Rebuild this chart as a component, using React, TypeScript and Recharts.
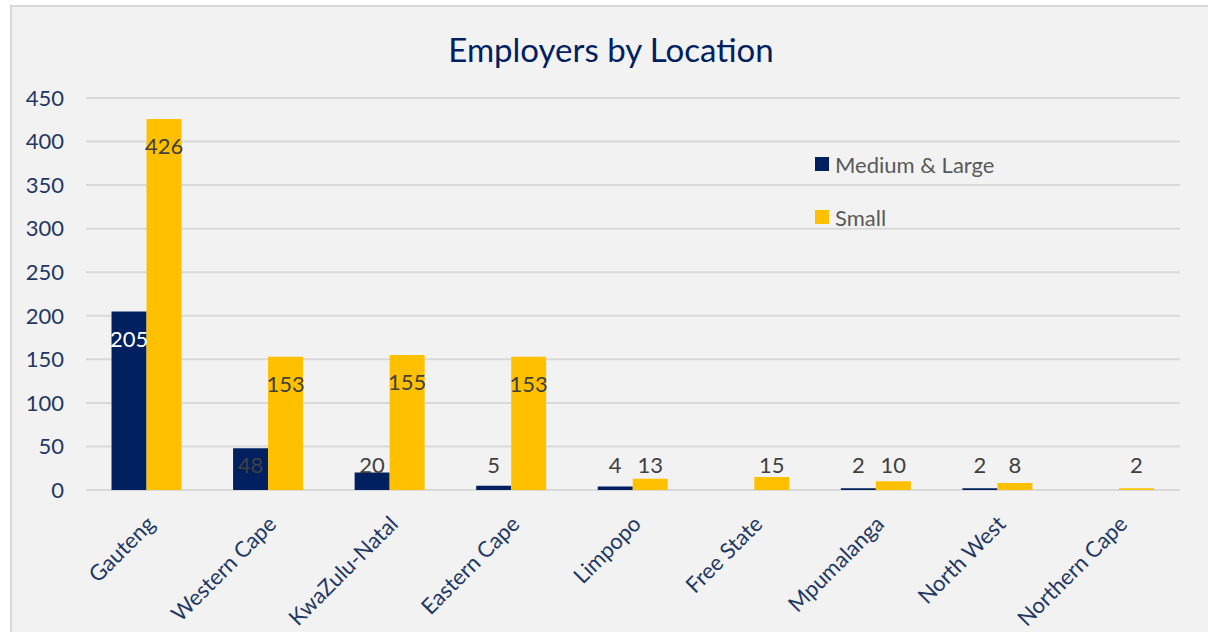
import { BarChart, Bar, XAxis, YAxis, CartesianGrid, LabelList } from 'recharts';

// provincias y totales de empleadores
const provinces = ['Gauteng', 'Western Cape', 'KwaZulu-Natal', 'Eastern Cape', 'Limpopo', 'Free State', 'Mpumalanga', 'North West', 'Northern Cape'];
const mediumLarge = [205, 48, 20, 5, 4, 0, 2, 2, 0];
const small = [426, 153, 155, 153, 13, 15, 10, 8, 2];
const yTicks = [0, 50, 100, 150, 200, 250, 300, 350, 400, 450];
const seriesNames = ['Medium & Large', 'Small'];

const data = provinces.map((name, i) => ({ name, medium: mediumLarge[i], small: small[i] }));

const NAVY = '#002060';
const GOLD = '#FFC000';
const FONT = 'Lato, "Open Sans", sans-serif';

const XTick = ({ x, y, payload }: any) => (
  <g transform={`translate(${x + 4},${y + 22})`}>
    <text textAnchor="end" transform="rotate(-45)" fontSize={22} fill="#1F3864" fontFamily={FONT} dy="0.35em">
      {payload.value}
    </text>
  </g>
);

const makeLabel = (whiteOver?: number) => (props: any) => {
  const { x, y, width, height, value } = props;
  if (!value) return null;
  // dentro del extremo si cabe, si no encima de la barra
  const cy = Math.min(y + 27, y + height - 26);
  const white = whiteOver !== undefined && value > whiteOver;
  return (
    <text x={x + width / 2} y={cy} textAnchor="middle" dominantBaseline="central" fontSize={22} fontFamily={FONT} fill={white ? '#ffffff' : '#404040'}>
      {value}
    </text>
  );
};

export default function App() {
  return (
    <div style={{ position: 'absolute', left: 0, top: 0, width: 1208, height: 632, background: '#ffffff', overflow: 'hidden' }}>
      <div style={{ position: 'absolute', left: 10, top: 5, width: 1210, height: 640, background: '#F2F2F2', borderLeft: '2px solid #D9D9D9', borderTop: '2px solid #D9D9D9' }}>
        <div style={{ position: 'absolute', left: 0, top: 22, width: 1198, textAlign: 'center', fontFamily: FONT, fontSize: 33, color: NAVY }}>
          Employers by Location
        </div>
        <BarChart
          width={1196}
          height={625}
          data={data}
          margin={{ top: 91, right: 28, left: 0, bottom: 0 }}
          barCategoryGap="21%"
          barGap={0}
        >
          <CartesianGrid vertical={false} stroke="#D9D9D9" strokeWidth={2} />
          <XAxis dataKey="name" height={142} axisLine={false} tickLine={false} interval={0} tick={<XTick />} />
          <YAxis
            domain={[0, 450]}
            ticks={yTicks}
            width={74}
            axisLine={false}
            tickLine={false}
            tickSize={0}
            tickMargin={22}
            tick={{ fontSize: 22, fill: '#1F3864', fontFamily: FONT }}
          />
          <Bar dataKey="medium" name={seriesNames[0]} fill={NAVY} isAnimationActive={false}>
            <LabelList dataKey="medium" content={makeLabel(100)} />
          </Bar>
          <Bar dataKey="small" name={seriesNames[1]} fill={GOLD} isAnimationActive={false}>
            <LabelList dataKey="small" content={makeLabel()} />
          </Bar>
        </BarChart>
        <div style={{ position: 'absolute', left: 803, top: 143, fontFamily: FONT, fontSize: 22, color: '#595959' }}>
          {[NAVY, GOLD].map((c, i) => (
            <div key={c} style={{ display: 'flex', alignItems: 'center', height: 28, marginBottom: 25 }}>
              <span style={{ width: 14, height: 14, background: c, marginRight: 6, display: 'inline-block' }} />
              {seriesNames[i]}
            </div>
          ))}
        </div>
      </div>
    </div>
  );
}
